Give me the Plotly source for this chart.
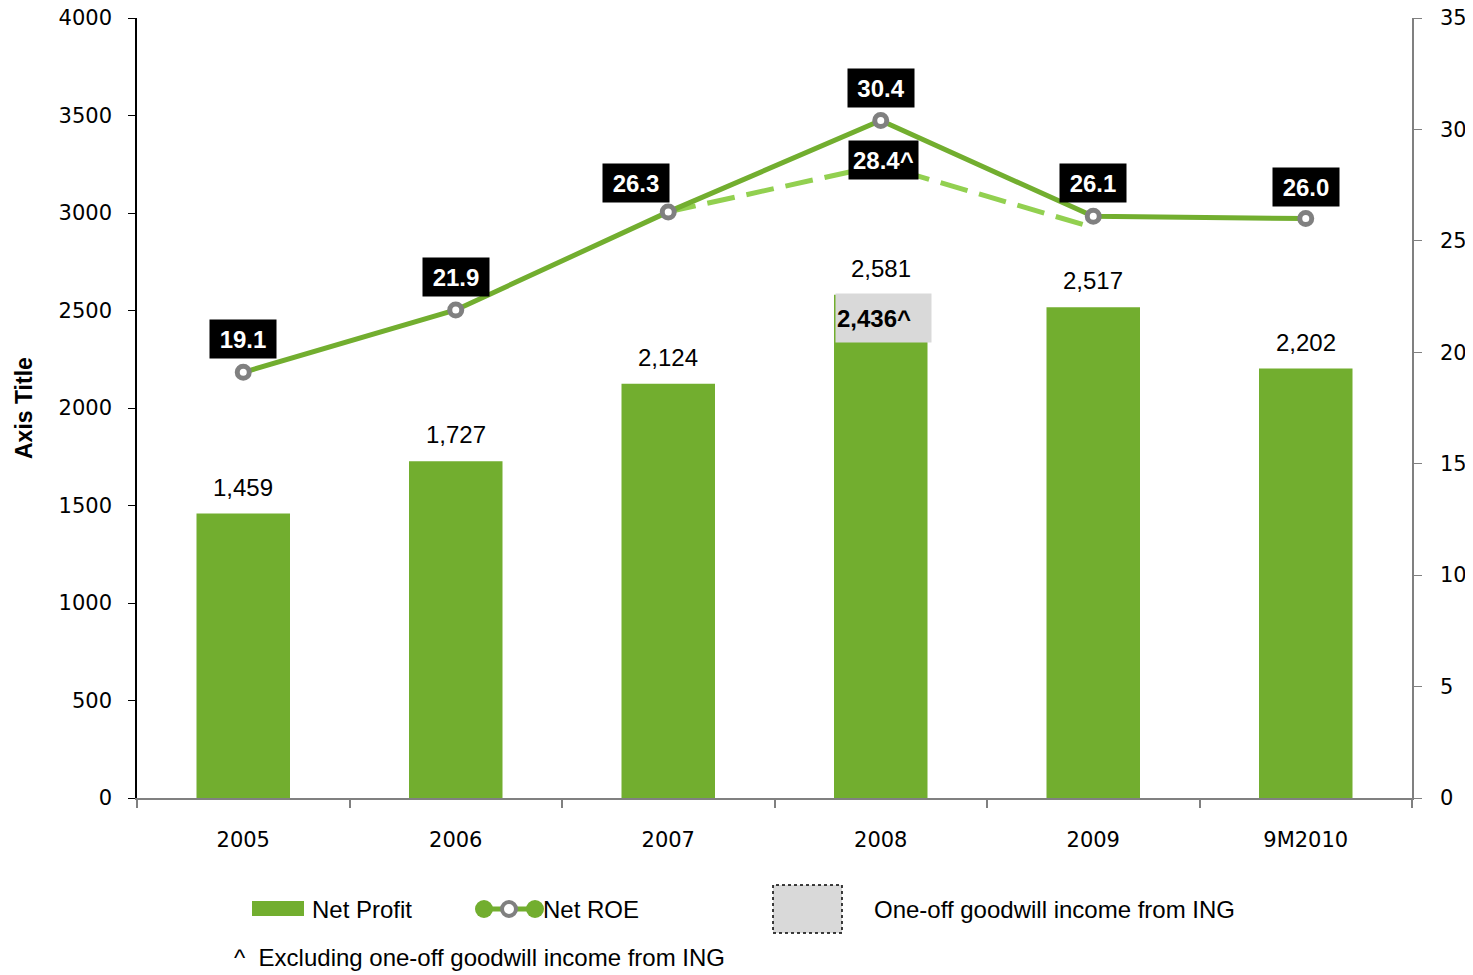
import plotly.graph_objects as go

# data
years = ['2005', '2006', '2007', '2008', '2009', '9M2010']
net_profit = [1459, 1727, 2124, 2581, 2517, 2202]
net_profit_labels = ['1,459', '1,727', '2,124', '2,581', '2,517', '2,202']
net_roe = [19.1, 21.9, 26.3, 30.4, 26.1, 26.0]
roe_labels = ['19.1', '21.9', '26.3', '30.4', '26.1', '26.0']
excl_years = ['2007', '2008', '2009']
excl_roe = [26.3, 28.4, 25.6]
excl_roe_label = '28.4^'
excl_profit_year = '2008'
excl_profit_label = '2,436^'

# page has an 8px body margin, so the figure sits 8px in from the corner
W, H = 1465, 967
L, R, T, B = 129, 61, 10, 177
OFF = 8
GREEN = '#72AE2F'
LIGHT_GREEN = '#92D050'
GREY = '#808080'
LABEL_FONT = 'Liberation Sans, Arial, sans-serif'
TICK_FONT = 'DejaVu Sans, sans-serif'
# label nudges (px) so the 2007 box sits left of its point as in the original
roe_label_xshift = [0, 0, -32, 0, 0, 0]
roe_label_yshift = [33, 33, 29, 33, 33, 32]


def px(x):
    # screen pixel -> paper x
    return (x - OFF - L) / (W - L - R)


def py(y):
    # screen pixel -> paper y
    return (H - B - (y - OFF)) / (H - T - B)


fig = go.Figure()

fig.add_trace(go.Bar(
    x=years, y=net_profit, name='Net Profit',
    marker=dict(color=GREEN, line=dict(width=0)),
    yaxis='y', hoverinfo='x+y'
))

# ROE excluding one-off goodwill (dashed)
fig.add_trace(go.Scatter(
    x=excl_years, y=excl_roe, yaxis='y2', mode='lines',
    line=dict(color=LIGHT_GREEN, width=5, dash='28px,12px'),
    name='Net ROE excl. one-off', hoverinfo='x+y'
))

fig.add_trace(go.Scatter(
    x=years, y=net_roe, yaxis='y2', mode='lines+markers', name='Net ROE',
    line=dict(color=GREEN, width=5),
    marker=dict(symbol='circle', size=12, color='white',
                line=dict(color=GREY, width=5)),
    hoverinfo='x+y'
))

annotations = []

# bar value labels (category index used as x)
for i, (v, t) in enumerate(zip(net_profit, net_profit_labels)):
    annotations.append(dict(
        x=i, y=v, yref='y', text=t, showarrow=False, yanchor='bottom',
        yshift=11, font=dict(family=LABEL_FONT, size=24, color='black')
    ))

# one-off goodwill box on 2008 bar
k = years.index(excl_profit_year)
annotations.append(dict(
    x=k, y=net_profit[k], yref='y',
    text='<b>' + excl_profit_label + '</b>', showarrow=False,
    yanchor='top', xanchor='center', xshift=3, yshift=2,
    width=93, height=46, align='left', bgcolor='#D9D9D9', borderpad=1,
    font=dict(family=LABEL_FONT, size=24, color='black')
))

# ROE labels
for i, (v, t) in enumerate(zip(net_roe, roe_labels)):
    annotations.append(dict(
        x=i, y=v, yref='y2', text='<b>' + t + '</b>', showarrow=False,
        yanchor='middle', xshift=roe_label_xshift[i],
        yshift=roe_label_yshift[i], bgcolor='black', borderpad=4,
        width=58, height=30,
        font=dict(family=LABEL_FONT, size=24, color='white')
    ))

annotations.append(dict(
    x=years.index(excl_years[1]), y=excl_roe[1], yref='y2',
    text='<b>' + excl_roe_label + '</b>', showarrow=False,
    yanchor='middle', xshift=3, yshift=5, bgcolor='black', borderpad=4,
    height=30,
    font=dict(family=LABEL_FONT, size=24, color='white')
))

# axis title
annotations.append(dict(
    xref='paper', yref='paper', x=px(24), y=0.5, text='<b>Axis Title</b>',
    textangle=-90, showarrow=False, xanchor='center', yanchor='middle',
    font=dict(family=LABEL_FONT, size=23, color='black')
))

# legend texts
legend_font = dict(family=LABEL_FONT, size=24, color='black')
for x, y, t in [(310, 909, 'Net Profit'), (541, 909, 'Net ROE'),
                (872, 909, 'One-off goodwill income from ING'),
                (232, 957, '^  Excluding one-off goodwill income from ING')]:
    annotations.append(dict(
        xref='paper', yref='paper', x=px(x), y=py(y), text=t,
        showarrow=False, xanchor='left', yanchor='middle', font=legend_font
    ))

shapes = [
    # Net Profit legend swatch
    dict(type='rect', xref='paper', yref='paper', x0=px(252), x1=px(304),
         y0=py(916), y1=py(901), fillcolor=GREEN, line=dict(width=0)),
    # Net ROE legend glyph
    dict(type='line', xref='paper', yref='paper', x0=px(480), x1=px(538),
         y0=py(909), y1=py(909), line=dict(color=GREEN, width=5)),
    dict(type='circle', xref='paper', yref='paper', x0=px(475), x1=px(493),
         y0=py(918), y1=py(900), fillcolor=GREEN, line=dict(width=0)),
    dict(type='circle', xref='paper', yref='paper', x0=px(502), x1=px(516),
         y0=py(916), y1=py(902), fillcolor='white', line=dict(color=GREY, width=4)),
    dict(type='circle', xref='paper', yref='paper', x0=px(526), x1=px(544),
         y0=py(918), y1=py(900), fillcolor=GREEN, line=dict(width=0)),
    # one-off legend box
    dict(type='rect', xref='paper', yref='paper', x0=px(773), x1=px(842),
         y0=py(933), y1=py(885), fillcolor='#D9D9D9',
         line=dict(color='black', width=1.5, dash='dot')),
]

tickfont = dict(family=TICK_FONT, size=21, color='black')

fig.update_layout(
    width=W, height=H,
    margin=dict(l=L, r=R, t=T, b=B),
    plot_bgcolor='white', paper_bgcolor='white',
    showlegend=False,
    bargap=0.56,
    annotations=annotations,
    shapes=shapes,
    xaxis=dict(
        type='category', range=[-0.5, 5.5], showline=True, linecolor=GREY,
        linewidth=1.5, ticks='outside', tickson='boundaries', ticklen=8,
        tickcolor=GREY, tickwidth=1.5, tickfont=tickfont,
        ticklabelstandoff=22, automargin=False,
        showgrid=False, zeroline=False
    ),
    yaxis=dict(
        range=[0, 4000], dtick=500, showline=True, linecolor='black',
        linewidth=1.5, ticks='outside', ticklen=7, tickcolor='black',
        tickfont=tickfont, ticklabelstandoff=12, automargin=False,
        ticklabeloverflow='allow',
        showgrid=False, zeroline=False
    ),
    yaxis2=dict(
        range=[0, 35], dtick=5, overlaying='y', side='right',
        showline=True, linecolor=GREY, linewidth=1.5, ticks='outside',
        ticklen=8, tickcolor=GREY, tickfont=tickfont,
        ticklabelstandoff=14, automargin=False, ticklabeloverflow='allow',
        showgrid=False, zeroline=False
    ),
)

fig.write_html("out.html")
